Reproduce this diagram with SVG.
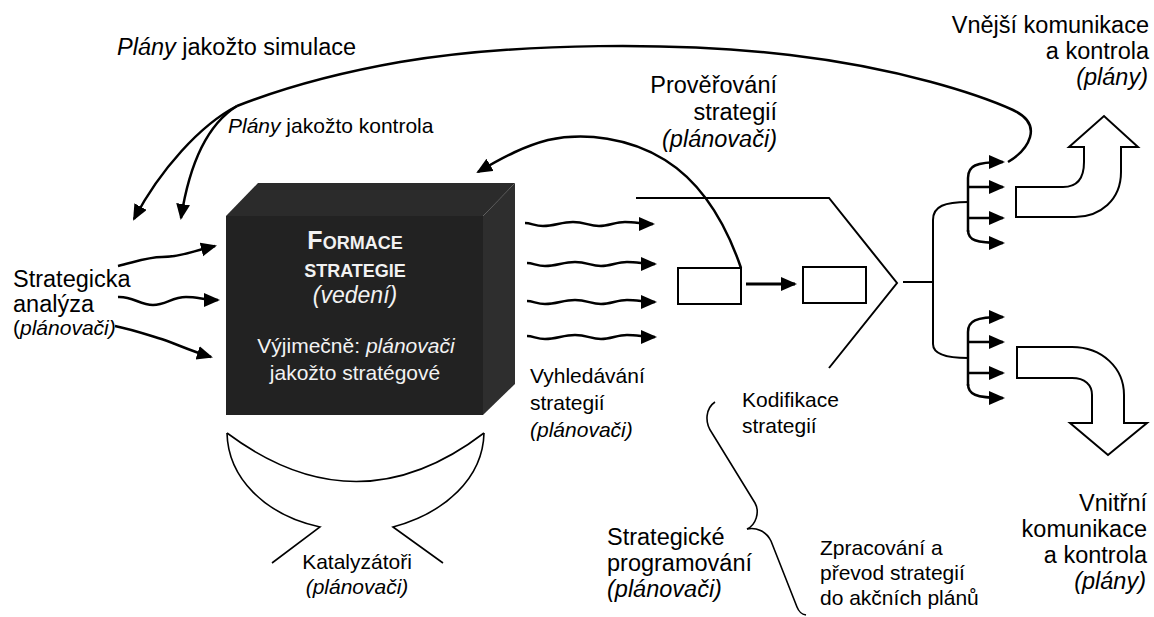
<svg xmlns="http://www.w3.org/2000/svg" width="1154" height="617" viewBox="0 0 1154 617">
<style>
text{font-family:"Liberation Sans",Arial,sans-serif;fill:#000}
.L{font-size:23.5px}
.M{font-size:21px}
.i{font-style:italic}
.w{fill:#f2f2f2}
.ln{fill:none;stroke:#000;stroke-width:2.5}
.th{fill:none;stroke:#000;stroke-width:2}
.tn{fill:none;stroke:#000;stroke-width:1.6}
.ar{marker-end:url(#ah)}
</style>
<defs>
<marker id="ah" markerUnits="userSpaceOnUse" markerWidth="17" markerHeight="15" refX="14" refY="7" orient="auto">
<path d="M0,0 L16,7 L0,14 Z" fill="#000"/>
</marker>
</defs>

<g id="connectors">
<!-- big arc: plans as simulation / control -->
<path class="ln" d="M1008,162 C1028,150 1045,125 1013,110 C980,95 900,68 790,55 C680,42 520,42 400,62 C320,76 265,95 237,106"/>
<path class="ln ar" d="M237,106 C200,125 160,170 134,219"/>
<path class="ln ar" d="M237,106 C208,124 190,160 181,218"/>
<!-- strategy checking -->
<path class="ln ar" d="M741,268 C728,230 705,185 665,160 C630,138 585,132 548,140 C525,146 505,156 478,172"/>
<!-- left wavy inputs -->
<path class="ln ar" d="M118,266 C135,262 148,257 162,257 C178,257 188,253 203,249 L215,246"/>
<path class="ln ar" d="M118,297 C132,296 140,305 153,305 C166,305 172,297 186,297 C198,297 205,300 218,300"/>
<path class="ln ar" d="M115,326 C130,329 142,333 158,338 C175,343 185,349 211,357"/>
<!-- right wavy outputs -->
<path class="ln ar" d="M525,223 c6,0 10,3 18,3 c12,0 18,-4 30,-4 c12,0 16,4 26,4 c10,0 16,-4 26,-4 c10,0 18,2 28,2"/>
<path class="ln ar" d="M527,263 c6,0 10,3 18,3 c12,0 18,-4 30,-4 c12,0 16,4 26,4 c10,0 16,-4 26,-4 c10,0 18,2 28,2"/>
<path class="ln ar" d="M527,301 c6,0 10,3 18,3 c12,0 18,-4 30,-4 c12,0 16,4 26,4 c10,0 16,-4 26,-4 c10,0 18,2 28,2"/>
<path class="ln ar" d="M527,336 c6,0 10,3 18,3 c12,0 18,-4 30,-4 c12,0 16,4 26,4 c10,0 16,-4 26,-4 c10,0 18,2 28,2"/>
<!-- rect to rect -->
<path class="ln ar" d="M746,284 L795,284" style="stroke-width:3"/>
<!-- distribution -->
<path class="th" d="M903,282 L933,282"/>
<path class="th" d="M968,202 C945,202 933,206 933,220 L933,344 C933,354 945,358 968,358"/>
<path class="ln ar" d="M968,232 L968,178 C968,166 975,162 1003,162"/>
<path class="ln ar" d="M968,187 L1003,187"/>
<path class="ln ar" d="M968,218 L1003,218"/>
<path class="ln ar" d="M968,230 C968,240 975,243 1003,243"/>
<path class="ln ar" d="M968,386 L968,332 C968,321 975,317 1003,317"/>
<path class="ln ar" d="M968,342 L1003,342"/>
<path class="ln ar" d="M968,373 L1003,373"/>
<path class="ln ar" d="M968,384 C968,394 975,398 1003,398"/>
</g>

<g id="formace">
<polygon points="226,216 258,183 515,183 483,216" fill="#2b2b2b"/>
<polygon points="483,216 515,183 515,384 483,415" fill="#2e2e2e"/>
<rect x="226" y="216" width="257" height="199" fill="#222"/>
<text x="355" y="249" text-anchor="middle" font-weight="bold" class="w"><tspan font-size="25">F</tspan><tspan font-size="18">ORMACE</tspan></text>
<text x="355" y="277" text-anchor="middle" font-weight="bold" font-size="18" class="w">STRATEGIE</text>
<text x="355" y="303" text-anchor="middle" font-size="23" class="w i">(vedení)</text>
<text x="356" y="353" text-anchor="middle" class="M w">Výjimečně: <tspan class="i">plánovači</tspan></text>
<text x="355" y="380" text-anchor="middle" class="M w">jakožto stratégové</text>
</g>

<g id="katalyzatori">
<path class="tn" d="M227,433 Q357,530 484,433"/>
<path class="tn" d="M227,433 C228,478 265,515 320,527 L272,563"/>
<path class="tn" d="M484,433 C483,478 445,513 393,527 L443,563"/>
<text x="357" y="569" text-anchor="middle" class="M">Katalyzátoři</text>
<text x="357" y="594" text-anchor="middle" class="M i">(plánovači)</text>
</g>

<g id="kodifikace">
<polyline class="th" points="636,198 829,198 897,283 829,368"/>
<rect class="th" x="678" y="268" width="63" height="36"/>
<rect class="th" x="803" y="267" width="63" height="36"/>
</g>

<g id="vnejsi-sipka">
<path class="th" d="M1016,187 L1063,187 C1077,187 1084,178 1084,162 L1084,147 L1069,147 L1104,116 L1138,147 L1121,147 L1121,172 C1121,200 1100,217 1075,217 L1016,217 Z" fill="#fff"/>
</g>
<g id="vnitrni-sipka">
<path class="th" d="M1017,347 L1072,347 C1102,347 1124,368 1124,395 L1124,423 L1147,423 L1108,455 L1070,423 L1092,423 L1092,395 C1092,385 1085,378 1072,378 L1017,378 Z" fill="#fff"/>
</g>

<g id="programovani">
<path class="tn" d="M715,402 C706,408 704,422 712,433 L755,503 C760,512 756,525 747,529"/>
<path class="tn" d="M747,529 C756,527 766,531 771,541 L797,607 C799,612 801,614 806,615"/>
</g>

<g id="labels">
<text x="117" y="55" class="L"><tspan class="i">Plány</tspan> jakožto simulace</text>
<text x="228" y="133" class="M"><tspan class="i">Plány</tspan> jakožto kontrola</text>
<text x="1149" y="33" text-anchor="end" class="L">Vnější komunikace</text>
<text x="1149" y="59" text-anchor="end" class="L">a kontrola</text>
<text x="1148" y="85" text-anchor="end" class="L i">(plány)</text>
<text x="777" y="93" text-anchor="end" class="L">Prověřování</text>
<text x="777" y="120" text-anchor="end" class="L">strategií</text>
<text x="777" y="147" text-anchor="end" class="L i">(plánovači)</text>
<text x="13" y="287" class="L">Strategicka</text>
<text x="13" y="312" class="L">analýza</text>
<text x="13" y="335" class="M">(<tspan class="i">plánovači)</tspan></text>
<text x="530" y="383" class="M">Vyhledávání</text>
<text x="530" y="410" class="M">strategií</text>
<text x="530" y="437" class="M i">(plánovači)</text>
<text x="742" y="407" class="M">Kodifikace</text>
<text x="742" y="433" class="M">strategií</text>
<text x="607" y="545" class="L">Strategické</text>
<text x="607" y="571" class="L">programování</text>
<text x="607" y="597" class="L i">(plánovači)</text>
<text x="820" y="555" class="M">Zpracování a</text>
<text x="820" y="580" class="M">převod strategií</text>
<text x="820" y="605" class="M">do akčních plánů</text>
<text x="1147" y="511" text-anchor="end" class="L">Vnitřní</text>
<text x="1147" y="537" text-anchor="end" class="L">komunikace</text>
<text x="1147" y="563" text-anchor="end" class="L">a kontrola</text>
<text x="1146" y="589" text-anchor="end" class="L i">(plány)</text>
</g>
</svg>
